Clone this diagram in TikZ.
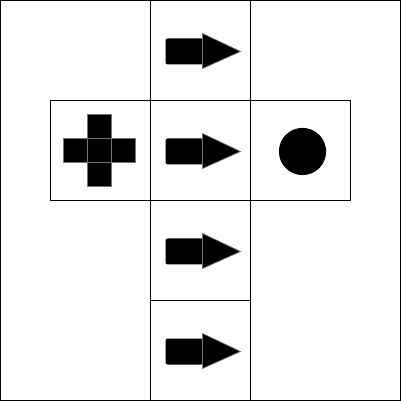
\documentclass[tikz,border=0pt]{standalone}
\usepackage{tikz}
\usetikzlibrary{positioning}

\begin{document}
\begin{tikzpicture}[line width=0.71pt, cell/.style={draw, minimum size=2.5cm, inner sep=0pt, outer sep=0pt}, piece/.style={fill=black, draw=black!55, line width=0.5pt}]
\useasboundingbox (-5.0125,-5.0125) rectangle (5.0125,5.0125);
\node[draw, minimum size=10cm, inner sep=0pt, outer sep=0pt] (frame) at (0,0) {};
\node[cell] (top) at (0,3.75) {};
\node[cell, below=0cm of top] (mid) {};
\node[cell, left=0cm of mid] (left) {};
\node[cell, right=0cm of mid] (right) {};
\node[cell, below=0cm of mid] (low) {};
\node[cell, below=0cm of low] (bottom) {};
% arrows
\foreach \c in {top,mid,low,bottom} {
  \fill[rounded corners=1.5pt] ([shift={(-0.875,-0.35)}]\c.center) rectangle ([shift={(0.075,0.3)}]\c.center);
  \filldraw[piece] ([shift={(0.05,0.425)}]\c.center) -- ([shift={(1.0,-0.025)}]\c.center) -- ([shift={(0.05,-0.45)}]\c.center) -- cycle;
}
% cross
\foreach \dx/\dy in {0/0, -0.6/0, 0.6/0, 0/0.6, 0/-0.6}
  \filldraw[piece] ([shift={(\dx-0.325,\dy-0.3)}]left.center) rectangle ++(0.6,0.6);
% dot
\fill ([shift={(0.05,-0.025)}]right.center) circle (0.59);
\end{tikzpicture}
\end{document}
